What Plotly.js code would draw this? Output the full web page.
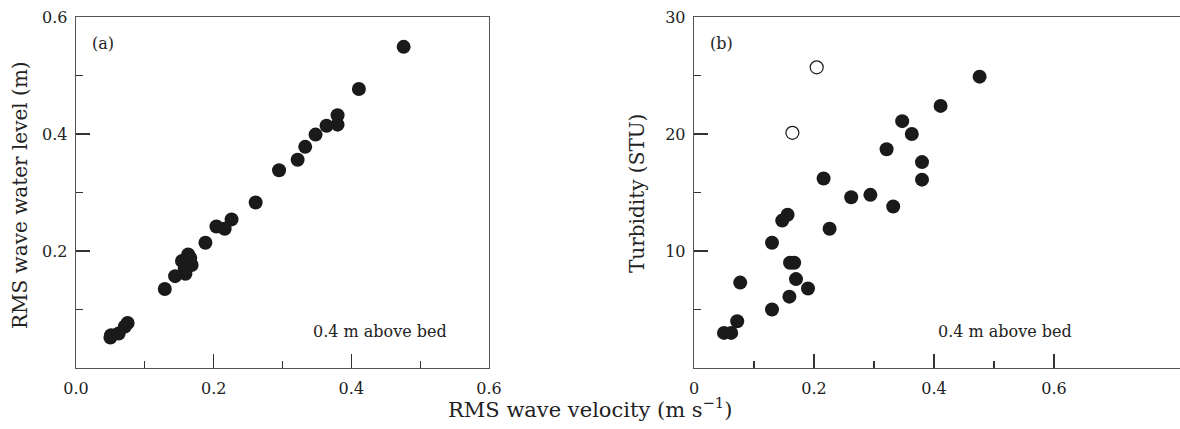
<!DOCTYPE html>
<html>
<head>
<meta charset="utf-8">
<script src="https://cdn.plot.ly/plotly-3.0.1.min.js"></script>
<style>
html,body{margin:0;padding:0;overflow:hidden;background:#fff;width:1180px;height:429px;}
#chart{width:1200px;height:429px;}
</style>
</head>
<body>
<div id="chart"></div>
<script>
// Panel (a): RMS wave velocity vs RMS wave water level
const velA = [0.476,0.411,0.380,0.380,0.364,0.348,0.333,0.322,0.295,0.261,0.226,0.216,0.204,0.188,0.163,0.166,0.154,0.168,0.159,0.158,0.144,0.129,0.075,0.071,0.062,0.051,0.050];
const levelA = [0.549,0.477,0.432,0.416,0.414,0.399,0.378,0.356,0.338,0.283,0.254,0.238,0.242,0.214,0.194,0.188,0.183,0.176,0.161,0.170,0.157,0.135,0.077,0.071,0.059,0.056,0.052];

// Panel (b): RMS wave velocity vs turbidity (filled)
const velB = [0.476,0.411,0.347,0.363,0.321,0.380,0.380,0.216,0.262,0.294,0.332,0.156,0.147,0.226,0.130,0.160,0.167,0.170,0.190,0.159,0.077,0.130,0.072,0.062,0.050];
const turbB = [24.9,22.4,21.1,20.0,18.7,17.6,16.1,16.2,14.6,14.8,13.8,13.1,12.6,11.9,10.7,9.0,9.0,7.6,6.8,6.1,7.3,5.0,4.0,3.0,3.0];
// Panel (b): open circles
const velBOpen = [0.2045,0.164];
const turbBOpen = [25.7,20.1];

const xTicksA = [0,0.2,0.4,0.6];
const xTickTextA = ['0.0','0.2','0.4','0.6'];
const xTicksB = [0,0.2,0.4,0.6];
const xTickTextB = ['0','0.2','0.4','0.6'];
const yTicksA = [0.2,0.4,0.6];
const yTickTextA = ['0.2','0.4','0.6'];
const yTicksB = [10,20,30];
const yTickTextB = ['10','20','30'];

const FONT = 'DejaVu Serif, serif';
const W = 1200;

const mk = {size:14,color:'#1a1a1a',line:{width:0}};
const traces = [
  {x:velA,y:levelA,type:'scatter',mode:'markers',marker:mk,xaxis:'x',yaxis:'y',hoverinfo:'skip'},
  {x:velB,y:turbB,type:'scatter',mode:'markers',marker:mk,xaxis:'x2',yaxis:'y2',hoverinfo:'skip'},
  {x:velBOpen,y:turbBOpen,type:'scatter',mode:'markers',marker:{size:13,color:'#ffffff',line:{width:1.2,color:'#1a1a1a'}},xaxis:'x2',yaxis:'y2',hoverinfo:'skip'}
];

function ax(extra){
  return Object.assign({
    showline:true,mirror:true,linecolor:'#555',linewidth:1.3,
    ticks:'inside',ticklen:14,tickwidth:1.3,tickcolor:'#333',
    showgrid:false,zeroline:false,tickmode:'array',
    tickfont:{family:FONT,size:16,color:'#222'},
    fixedrange:true
  },extra);
}

const layout = {
  width:W,height:429,
  margin:{l:0,r:0,t:17,b:61},
  paper_bgcolor:'#fff',plot_bgcolor:'#fff',
  showlegend:false,
  font:{family:FONT,color:'#222'},
  xaxis:ax({domain:[76/W,489/W],range:[0,0.6],tickvals:xTicksA,ticktext:xTickTextA,anchor:'y',ticklabelstandoff:5,
    minor:{ticks:'inside',ticklen:7,tickwidth:1.2,tickcolor:'#333',tickmode:'array',tickvals:[0.1,0.3,0.5]}}),
  yaxis:ax({domain:[0,1],range:[0,0.6],tickvals:yTicksA,ticktext:yTickTextA,anchor:'x',ticklabelstandoff:4,
    minor:{ticks:'inside',ticklen:7,tickwidth:1.2,tickcolor:'#333',tickmode:'array',tickvals:[0.1,0.3,0.5]}}),
  xaxis2:ax({domain:[694/W,(694+0.82*600)/W],range:[0,0.82],tickvals:xTicksB,ticktext:xTickTextB,anchor:'y2',ticklabelstandoff:5,
    minor:{ticks:'inside',ticklen:7,tickwidth:1.2,tickcolor:'#333',tickmode:'array',tickvals:[0.1,0.3,0.5]}}),
  yaxis2:ax({domain:[0,1],range:[0,30],tickvals:yTicksB,ticktext:yTickTextB,anchor:'x2',ticklabelstandoff:4,
    minor:{ticks:'inside',ticklen:7,tickwidth:1.2,tickcolor:'#333',tickmode:'array',tickvals:[5,15,25]}}),
  annotations:[
    {text:'(a)',xref:'x',yref:'y',x:0.02,y:0.554,xanchor:'left',yanchor:'middle',showarrow:false,font:{family:FONT,size:16,color:'#222'}},
    {text:'(b)',xref:'x2',yref:'y2',x:0.023,y:27.7,xanchor:'left',yanchor:'middle',showarrow:false,font:{family:FONT,size:16,color:'#222'}},
    {text:'0.4 m above bed',xref:'x',yref:'y',x:0.542,y:0.0623,xanchor:'right',yanchor:'middle',showarrow:false,font:{family:FONT,size:16,color:'#222'}},
    {text:'0.4 m above bed',xref:'x2',yref:'y2',x:0.633,y:3.08,xanchor:'right',yanchor:'middle',showarrow:false,font:{family:FONT,size:16,color:'#222'}},
    {text:'RMS wave water level (m)',xref:'paper',yref:'paper',x:20/W,y:(368-195)/351,xanchor:'center',yanchor:'middle',textangle:-90,showarrow:false,font:{family:FONT,size:20,color:'#222'}},
    {text:'Turbidity (STU)',xref:'paper',yref:'paper',x:637/W,y:(368-194)/351,xanchor:'center',yanchor:'middle',textangle:-90,showarrow:false,font:{family:FONT,size:20,color:'#222'}},
    {text:'RMS wave velocity (m s<sup>\u22121</sup>)',xref:'paper',yref:'paper',x:590/W,y:(368-408)/351,xanchor:'center',yanchor:'middle',showarrow:false,font:{family:FONT,size:21,color:'#222'}}
  ]
};

Plotly.newPlot('chart',traces,layout,{displayModeBar:false,staticPlot:true});
</script>
</body>
</html>
